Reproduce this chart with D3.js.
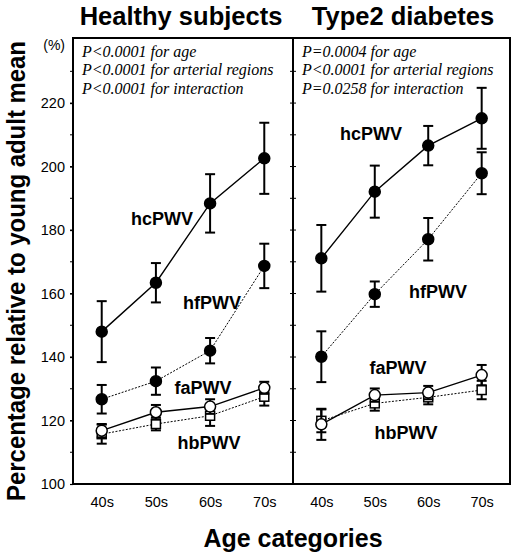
<!DOCTYPE html>
<html>
<head>
<meta charset="utf-8">
<script src="https://cdn.jsdelivr.net/npm/d3@7"></script>
<style>
  body { margin: 0; background: #fff; }
  svg { display: block; }
</style>
</head>
<body>
<svg id="chart" width="520" height="557"></svg>
<script>
// data (mean and error bar half-length, %)
const ages = ["40s", "50s", "60s", "70s"];
const yTicks = [100, 120, 140, 160, 180, 200, 220];

const healthyHc = [148.0, 163.4, 188.4, 202.6];
const healthyHcErr = [9.6, 6.2, 9.2, 11.2];
const healthyHf = [126.7, 132.4, 142.0, 168.7];
const healthyHfErr = [4.5, 4.3, 4.0, 7.0];
const healthyFa = [116.8, 122.6, 124.4, 130.3];
const healthyFaErr = [2.1, 2.3, 2.3, 1.9];
const healthyHb = [115.7, 118.9, 121.5, 127.5];
const healthyHbErr = [3.0, 2.0, 3.2, 2.8];

const diabHc = [171.1, 192.1, 206.6, 215.2];
const diabHcErr = [10.5, 8.2, 6.2, 9.6];
const diabHf = [140.1, 159.8, 177.1, 197.9];
const diabHfErr = [8.0, 4.0, 6.7, 6.6];
const diabFa = [118.8, 128.0, 128.8, 134.3];
const diabFaErr = [4.9, 2.1, 2.1, 3.2];
const diabHb = [119.9, 125.4, 127.3, 129.6];
const diabHbErr = [3.6, 2.3, 2.2, 2.9];

const healthyNotes = ["P<0.0001 for age", "P<0.0001 for arterial regions", "P<0.0001 for interaction"];
const diabNotes = ["P=0.0004 for age", "P<0.0001 for arterial regions", "P=0.0258 for interaction"];

const svg = d3.select("#chart");

// plot frame
const plotTop = 38, plotBottom = 484, plotLeft = 73, plotMid = 293, plotRight = 510;

const y = d3.scaleLinear().domain([100, 240.5]).range([plotBottom, plotTop]);

// outer box and divider
svg.append("rect")
    .attr("x", plotLeft).attr("y", plotTop)
    .attr("width", plotRight - plotLeft).attr("height", plotBottom - plotTop)
    .attr("fill", "none").attr("stroke", "#000").attr("stroke-width", 2);
svg.append("line")
    .attr("x1", plotMid).attr("x2", plotMid).attr("y1", plotTop).attr("y2", plotBottom)
    .attr("stroke", "#000").attr("stroke-width", 2);

// y axis with minor ticks every 10
const yAxis = d3.axisLeft(y).tickValues(yTicks).tickSize(3).tickPadding(5).tickFormat(d3.format("d"));
const gy = svg.append("g").attr("transform", `translate(${plotLeft},0)`).call(yAxis);
gy.select(".domain").remove();
gy.selectAll("text").style("font-family", "'Liberation Sans', Arial, sans-serif").style("font-size", "14.5px").attr("fill", "#000");
gy.selectAll("line").attr("stroke-width", 1.2);

const minor = d3.range(110, 240, 10);
svg.selectAll(".minorL").data(minor).enter().append("line")
    .attr("x1", plotLeft - 3).attr("x2", plotLeft)
    .attr("y1", d => y(d)).attr("y2", d => y(d))
    .attr("stroke", "#000").attr("stroke-width", 1);
svg.selectAll(".midT").data(minor).enter().append("line")
    .attr("x1", plotMid - 3).attr("x2", plotMid + 3)
    .attr("y1", d => y(d)).attr("y2", d => y(d))
    .attr("stroke", "#000").attr("stroke-width", 1);

svg.append("text")
    .attr("x", 65).attr("y", 50)
    .attr("text-anchor", "end")
    .style("font-family", "'Liberation Sans', Arial, sans-serif")
    .style("font-size", "14px")
    .text("(%)");

function drawPanel(x0, x1, title, titleX, notes, series, labels) {
    const x = d3.scalePoint().domain(ages).range([x0, x1]).padding(0.53);

    const xAxis = d3.axisBottom(x).tickSize(0).tickPadding(13);
    const gx = svg.append("g").attr("transform", `translate(0,${plotBottom})`).call(xAxis);
    gx.select(".domain").remove();
    gx.selectAll("text").style("font-family", "'Liberation Sans', Arial, sans-serif").style("font-size", "14.5px").attr("fill", "#000");

    svg.append("text")
        .attr("x", titleX).attr("y", 25)
        .attr("text-anchor", "middle")
        .style("font-family", "'Liberation Sans', Arial, sans-serif")
        .style("font-weight", "bold")
        .style("font-size", "25.5px")
        .text(title);

    svg.selectAll(null).data(notes).enter().append("text")
        .attr("x", x0 + 9)
        .attr("y", (d, i) => 57 + i * 18.3)
        .style("font-family", "'Liberation Serif', 'Times New Roman', serif")
        .style("font-style", "italic")
        .style("font-size", "16px")
        .text(d => d);

    const line = d3.line().x((d, i) => x(ages[i])).y(d => y(d));

    series.forEach(s => {
        const g = svg.append("g");
        g.append("path")
            .datum(s.values)
            .attr("d", line)
            .attr("fill", "none")
            .attr("stroke", "#000")
            .attr("stroke-width", s.dotted ? 1 : 1.4)
            .attr("stroke-dasharray", s.dotted ? "2,1.5" : null);

        const pts = s.values.map((v, i) => ({ age: ages[i], v: v, e: s.err[i] }));
        const eb = g.selectAll(".eb").data(pts).enter().append("g");
        eb.append("line")
            .attr("x1", d => x(d.age)).attr("x2", d => x(d.age))
            .attr("y1", d => y(d.v - d.e)).attr("y2", d => y(d.v + d.e))
            .attr("stroke", "#000").attr("stroke-width", 2);
        eb.append("line")
            .attr("x1", d => x(d.age) - 5).attr("x2", d => x(d.age) + 5)
            .attr("y1", d => y(d.v + d.e)).attr("y2", d => y(d.v + d.e))
            .attr("stroke", "#000").attr("stroke-width", 2);
        eb.append("line")
            .attr("x1", d => x(d.age) - 5).attr("x2", d => x(d.age) + 5)
            .attr("y1", d => y(d.v - d.e)).attr("y2", d => y(d.v - d.e))
            .attr("stroke", "#000").attr("stroke-width", 2);

        if (s.marker === "square") {
            g.selectAll(".m").data(pts).enter().append("rect")
                .attr("x", d => x(d.age) - 4.5).attr("y", d => y(d.v) - 4.5)
                .attr("width", 9).attr("height", 9)
                .attr("fill", "#fff").attr("stroke", "#000").attr("stroke-width", 1.5);
        } else {
            g.selectAll(".m").data(pts).enter().append("circle")
                .attr("cx", d => x(d.age)).attr("cy", d => y(d.v))
                .attr("r", 5.5)
                .attr("fill", s.marker === "filled" ? "#000" : "#fff")
                .attr("stroke", "#000").attr("stroke-width", 1.5);
        }
    });

    svg.selectAll(null).data(labels).enter().append("text")
        .attr("x", d => d.x).attr("y", d => d.y)
        .attr("text-anchor", "middle")
        .attr("dy", "0.35em")
        .style("font-family", "'Liberation Sans', Arial, sans-serif")
        .style("font-weight", "bold")
        .style("font-size", "18px")
        .text(d => d.name);
}

drawPanel(plotLeft, plotMid, "Healthy subjects", 181, healthyNotes, [
    { values: healthyHb, err: healthyHbErr, marker: "square", dotted: true },
    { values: healthyFa, err: healthyFaErr, marker: "open", dotted: false },
    { values: healthyHf, err: healthyHfErr, marker: "filled", dotted: true },
    { values: healthyHc, err: healthyHcErr, marker: "filled", dotted: false }
], [
    { name: "hcPWV", x: 162, y: 219 },
    { name: "hfPWV", x: 212, y: 303 },
    { name: "faPWV", x: 203, y: 388 },
    { name: "hbPWV", x: 209, y: 443 }
]);

drawPanel(plotMid, plotRight, "Type2 diabetes", 403, diabNotes, [
    { values: diabHb, err: diabHbErr, marker: "square", dotted: true },
    { values: diabFa, err: diabFaErr, marker: "open", dotted: false },
    { values: diabHf, err: diabHfErr, marker: "filled", dotted: true },
    { values: diabHc, err: diabHcErr, marker: "filled", dotted: false }
], [
    { name: "hcPWV", x: 371, y: 134 },
    { name: "hfPWV", x: 438, y: 292 },
    { name: "faPWV", x: 398, y: 368 },
    { name: "hbPWV", x: 406, y: 433 }
]);

// axis titles
svg.append("text")
    .attr("transform", "translate(25,271) rotate(-90)")
    .attr("text-anchor", "middle")
    .attr("textLength", 460)
    .attr("lengthAdjust", "spacingAndGlyphs")
    .style("font-family", "'Liberation Sans', Arial, sans-serif")
    .style("font-weight", "bold")
    .style("font-size", "25px")
    .text("Percentage relative to young adult mean");

svg.append("text")
    .attr("x", 293).attr("y", 547)
    .attr("text-anchor", "middle")
    .style("font-family", "'Liberation Sans', Arial, sans-serif")
    .style("font-weight", "bold")
    .style("font-size", "25px")
    .text("Age categories");
</script>
</body>
</html>
